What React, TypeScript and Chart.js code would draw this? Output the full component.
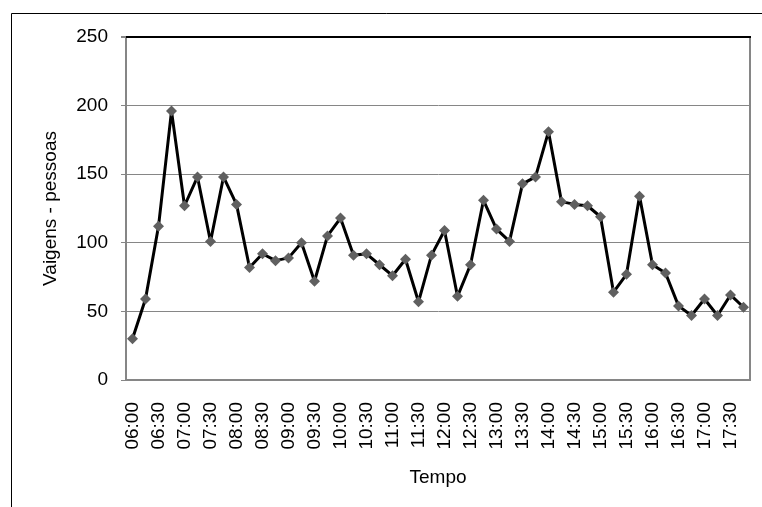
import React, { useEffect, useRef } from "react";
import { Chart, registerables } from "chart.js";

Chart.register(...registerables);

const categories = [
  "06:00", "06:15", "06:30", "06:45", "07:00", "07:15", "07:30", "07:45",
  "08:00", "08:15", "08:30", "08:45", "09:00", "09:15", "09:30", "09:45",
  "10:00", "10:15", "10:30", "10:45", "11:00", "11:15", "11:30", "11:45",
  "12:00", "12:15", "12:30", "12:45", "13:00", "13:15", "13:30", "13:45",
  "14:00", "14:15", "14:30", "14:45", "15:00", "15:15", "15:30", "15:45",
  "16:00", "16:15", "16:30", "16:45", "17:00", "17:15", "17:30", "17:45",
];

const viagens = [
  30, 59, 112, 196, 127, 148, 101, 148,
  128, 82, 92, 87, 89, 100, 72, 105,
  118, 91, 92, 84, 76, 88, 57, 91,
  109, 61, 84, 131, 110, 101, 143, 148,
  181, 130, 128, 127, 119, 64, 77, 134,
  84, 78, 54, 47, 59, 47, 62, 53,
];

const yTicks = [0, 50, 100, 150, 200, 250];

const xTitle = "Tempo";
const yTitle = "Vaigens - pessoas";

const FONT = "'Liberation Sans', Arial, sans-serif";
const FS = 19;
const GRID = "#868686";

const framePlugin = {
  id: "frame",
  beforeDraw(chart: any) {
    const { ctx, width, height } = chart;
    ctx.save();
    ctx.fillStyle = "#ffffff";
    ctx.fillRect(0, 0, width, height);
    ctx.strokeStyle = "#000000";
    ctx.lineWidth = 1;
    ctx.beginPath();
    ctx.moveTo(11.5, height);
    ctx.lineTo(11.5, 13.5);
    ctx.lineTo(width, 13.5);
    ctx.stroke();
    ctx.restore();
  },
  beforeDatasetsDraw(chart: any) {
    const { ctx, chartArea } = chart;
    ctx.save();
    ctx.strokeStyle = GRID;
    ctx.lineWidth = 2;
    ctx.beginPath();
    ctx.moveTo(chartArea.right, chartArea.top);
    ctx.lineTo(chartArea.right, chartArea.bottom);
    ctx.stroke();
    ctx.strokeStyle = "#000000";
    ctx.beginPath();
    ctx.moveTo(chartArea.left, chartArea.top);
    ctx.lineTo(chartArea.right + 1, chartArea.top);
    ctx.stroke();
    ctx.restore();
  },
};

export default function App() {
  const ref = useRef<HTMLCanvasElement | null>(null);

  useEffect(() => {
    if (!ref.current) return;
    const chart = new Chart(ref.current, {
      type: "line",
      data: {
        labels: categories,
        datasets: [
          {
            data: viagens,
            borderColor: "#000000",
            borderWidth: 3,
            borderJoinStyle: "round",
            pointStyle: "rectRot",
            pointRadius: 5.5,
            pointBackgroundColor: "#606060",
            pointBorderColor: "#606060",
            pointBorderWidth: 0,
            tension: 0,
          },
        ],
      },
      options: {
        responsive: false,
        animation: false,
        events: [],
        layout: { padding: { top: 37, left: 0, right: 12, bottom: 0 } },
        plugins: {
          legend: { display: false },
          tooltip: { enabled: false },
        },
        scales: {
          x: {
            offset: true,
            grid: { display: false, drawTicks: false },
            border: { display: true, color: GRID, width: 2 },
            ticks: {
              autoSkip: false,
              minRotation: 90,
              maxRotation: 90,
              padding: 22,
              color: "#000000",
              font: { family: FONT, size: FS },
              callback: (_v: any, i: number) => (i % 2 === 0 ? categories[i] : ""),
            },
            title: {
              display: true,
              text: xTitle,
              color: "#000000",
              font: { family: FONT, size: FS },
              padding: { top: 0, bottom: 18 },
            },
            afterFit: (s: any) => {
              s.height = 127;
              s.paddingLeft = 0;
              s.paddingRight = 0;
            },
          },
          y: {
            min: 0,
            max: 250,
            afterBuildTicks: (s: any) => {
              s.ticks = yTicks.map((v) => ({ value: v }));
            },
            grid: {
              color: (c: any) => (c.tick && c.tick.value === 250 ? "#000000" : GRID),
              lineWidth: (c: any) => (c.tick && c.tick.value === 250 ? 2 : 1),
              tickLength: 5,
              tickColor: GRID,
              drawTicks: true,
            },
            border: { display: true, color: GRID, width: 2 },
            ticks: {
              padding: 13,
              color: "#000000",
              font: { family: FONT, size: FS },
            },
            title: {
              display: true,
              text: yTitle,
              color: "#000000",
              font: { family: FONT, size: FS },
              padding: { top: 39, bottom: 0 },
            },
            afterFit: (s: any) => {
              s.width = 126;
              s.paddingTop = 0;
              s.paddingBottom = 0;
            },
          },
        },
      },
      plugins: [framePlugin],
    });
    return () => chart.destroy();
  }, []);

  return (
    <div style={{ position: "fixed", left: 0, top: 0, width: 762, height: 507, background: "#fff" }}>
      <canvas ref={ref} width={762} height={507} style={{ width: 762, height: 507, display: "block" }} />
    </div>
  );
}
